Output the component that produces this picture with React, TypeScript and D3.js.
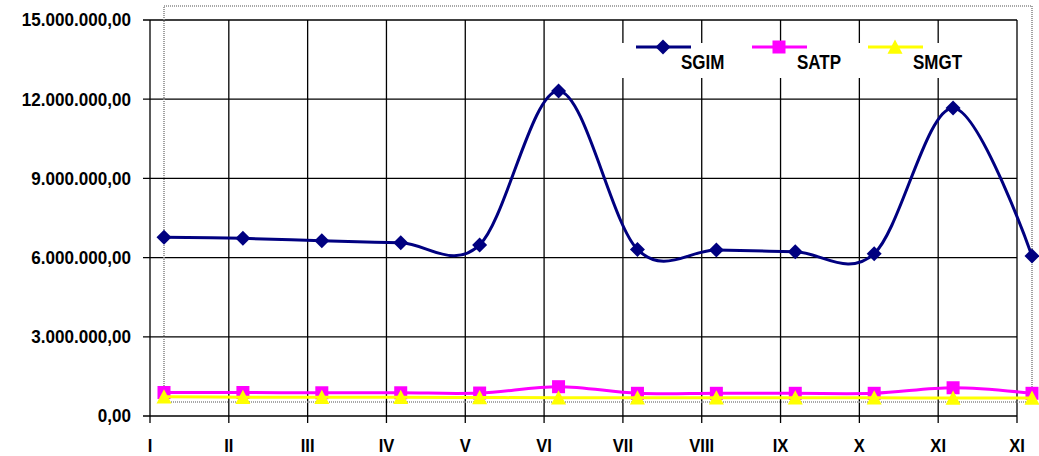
import React from "react";
import * as d3 from "d3";

const categories = ["I", "II", "III", "IV", "V", "VI", "VII", "VIII", "IX", "X", "XI", "XII"];
const tickLabels = ["I", "II", "III", "IV", "V", "VI", "VII", "VIII", "IX", "X", "XI", "XI"];
const yTicks = [0, 3000000, 6000000, 9000000, 12000000, 15000000];
const sgim = [6770000, 6730000, 6640000, 6560000, 6480000, 12310000, 6310000, 6290000, 6220000, 6150000, 11670000, 6060000];
const satp = [890000, 890000, 880000, 880000, 870000, 1110000, 860000, 860000, 860000, 860000, 1070000, 860000];
const smgt = [730000, 710000, 710000, 710000, 700000, 690000, 690000, 690000, 690000, 690000, 680000, 680000];

const W = 1039;
const H = 456;
const axisL = 150, axisR = 1017, axisT = 20, axisB = 416;
const frameL = 164, frameR = 1032, frameT = 6, frameB = 402;

const FONT = "'Liberation Sans', Arial, sans-serif";

const locale = d3.formatLocale({ decimal: ",", thousands: ".", grouping: [3], currency: ["", ""] });
const fmt = locale.format(",.2f");

export default function App() {
  const y = d3.scaleLinear().domain([0, 15000000]).range([axisB, axisT]);
  const xGrid = d3.scalePoint<string>().domain(categories).range([axisL, axisR]);
  const xData = d3.scalePoint<string>().domain(categories).range([frameL, frameR]);

  const line = d3
    .line<number>()
    .x((_, i) => xData(categories[i]) as number)
    .y((d) => y(d))
    .curve(d3.curveCardinal.tension(0));

  const diamond = (cx: number, cy: number, s = 7.5) =>
    `M${cx},${cy - s}L${cx + s},${cy}L${cx},${cy + s}L${cx - s},${cy}Z`;
  const triangle = (cx: number, cy: number, s = 7.5) =>
    `M${cx},${cy - s}L${cx + s},${cy + s * 0.9}L${cx - s},${cy + s * 0.9}Z`;

  const series = [
    { name: "SGIM", values: sgim, color: "#000080", marker: "diamond" },
    { name: "SATP", values: satp, color: "#FF00FF", marker: "square" },
    { name: "SMGT", values: smgt, color: "#FFFF00", marker: "triangle" },
  ];

  const marker = (kind: string, cx: number, cy: number, color: string, key: string) => {
    if (kind === "diamond") return <path key={key} d={diamond(cx, cy)} fill={color} />;
    if (kind === "square")
      return <rect key={key} x={cx - 6.5} y={cy - 6.5} width={13} height={13} fill={color} />;
    return <path key={key} d={triangle(cx, cy)} fill={color} />;
  };

  const legendX = [636, 752, 868];

  return (
    <svg
      width={W}
      height={H}
      style={{ position: "absolute", left: 0, top: 0, background: "#fff" }}
      fontFamily={FONT}
    >
      <rect x={0} y={0} width={W} height={H} fill="#fff" />
      {/* horizontal grid */}
      {yTicks.map((t) => (
        <line key={"h" + t} x1={axisL - 7} x2={axisR} y1={y(t)} y2={y(t)} stroke="#000" strokeWidth={1.3} />
      ))}
      {/* vertical grid */}
      {categories.map((c) => (
        <line
          key={"v" + c}
          x1={xGrid(c)}
          x2={xGrid(c)}
          y1={axisT}
          y2={axisB + 7}
          stroke="#000"
          strokeWidth={1.3}
        />
      ))}
      {/* y labels */}
      {yTicks.map((t) => (
        <g key={"yl" + t} transform={`translate(131,${y(t)}) scale(0.95,1)`}>
          <text y={0} dy="0.36em" textAnchor="end" fontSize={18} fontWeight="bold" fill="#000">
            {fmt(t)}
          </text>
        </g>
      ))}
      {/* x labels */}
      {categories.map((c, i) => (
        <g key={"xl" + c} transform={`translate(${xGrid(c)},452) scale(0.92,1)`}>
          <text textAnchor="middle" fontSize={18} fontWeight="bold" fill="#000">
            {tickLabels[i]}
          </text>
        </g>
      ))}
      {/* dotted frame of the data area */}
      <rect
        x={frameL}
        y={frameT}
        width={frameR - frameL}
        height={frameB - frameT}
        fill="none"
        stroke="#8a8a8a"
        strokeWidth={1.6}
        strokeDasharray="1 1"
      />
      {/* legend */}
      <rect x={617} y={43} width={360} height={35} fill="#fff" />
      {series.map((s, i) => (
        <g key={"lg" + s.name}>
          <line x1={legendX[i]} x2={legendX[i] + 55} y1={47} y2={47} stroke={s.color} strokeWidth={3} />
          {marker(s.marker, legendX[i] + 27, 47, s.color, "lm" + s.name)}
          <g transform={`translate(${legendX[i] + 45},69) scale(0.85,1)`}>
            <text fontSize={20} fontWeight="bold" fill="#000">
              {s.name}
            </text>
          </g>
        </g>
      ))}
      {/* series */}
      {series.map((s) => (
        <g key={"s" + s.name}>
          <path d={line(s.values) as string} fill="none" stroke={s.color} strokeWidth={3} />
          {s.values.map((v, i) =>
            marker(s.marker, xData(categories[i]) as number, y(v), s.color, s.name + i)
          )}
        </g>
      ))}
    </svg>
  );
}
